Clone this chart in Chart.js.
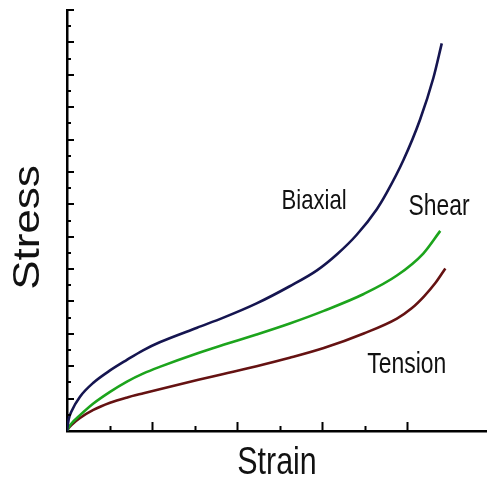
<!DOCTYPE html>
<html>
<head>
<meta charset="utf-8">
<script src="https://cdn.jsdelivr.net/npm/chart.js@4/dist/chart.umd.min.js"></script>
<style>
  html, body { margin: 0; padding: 0; background: #fff; }
  canvas { display: block; }
</style>
</head>
<body>
<canvas id="stressChart" width="487" height="489"></canvas>
<script>
const biaxialStrain = [0, 0.02, 0.055, 0.153, 0.31, 0.506, 0.70, 0.90, 1.09, 1.53, 1.84, 2.23, 2.62, 2.94, 3.173, 3.408, 3.644, 3.761, 3.956, 4.153, 4.309, 4.408];
const biaxialStress = [0, 0.36, 0.62, 1.06, 1.49, 1.87, 2.19, 2.50, 2.74, 3.19, 3.50, 3.94, 4.47, 4.96, 5.45, 6.06, 6.85, 7.36, 8.36, 9.62, 10.9, 11.97];

const shearStrain = [0, 0.02, 0.055, 0.153, 0.31, 0.506, 0.70, 0.90, 1.09, 1.545, 1.84, 2.23, 2.62, 3.02, 3.49, 3.88, 4.19, 4.39];
const shearStress = [0, 0.11, 0.24, 0.49, 0.85, 1.21, 1.52, 1.78, 1.98, 2.41, 2.66, 2.98, 3.32, 3.71, 4.23, 4.80, 5.48, 6.18];

const tensionStrain = [0, 0.02, 0.055, 0.153, 0.31, 0.506, 0.70, 0.90, 1.09, 1.545, 1.84, 2.23, 2.62, 3.02, 3.49, 3.88, 4.05, 4.20, 4.33, 4.45];
const tensionStress = [0, 0.09, 0.19, 0.40, 0.65, 0.87, 1.03, 1.166, 1.29, 1.58, 1.76, 2.00, 2.26, 2.56, 3.01, 3.47, 3.78, 4.16, 4.56, 5.02];

// where each curve name sits, in data units
const curveLabels = [
  { text: "Biaxial", x: 2.906, y: 7.08, size: 28 },
  { text: "Shear", x: 4.376, y: 6.93, size: 29 },
  { text: "Tension", x: 3.996, y: 2.05, size: 29 },
];

const xTitle = "Strain";
const yTitle = "Stress";

const textFont = "'Liberation Sans', Arial, sans-serif";

function toPoints(xs, ys) {
  return xs.map((x, i) => ({ x: x, y: ys[i] }));
}

// the lettering in the picture is squeezed sideways
function squeezedText(ctx, text, x, y, size, squeeze, upright) {
  ctx.save();
  ctx.translate(x, y);
  ctx.scale(squeeze, 1);
  if (upright) ctx.rotate(-Math.PI / 2);
  ctx.font = size + "px " + textFont;
  ctx.fillStyle = "#111";
  ctx.textAlign = "center";
  ctx.textBaseline = "middle";
  ctx.fillText(text, 0, 0);
  ctx.restore();
}

// inward tick marks, major on whole units and minor on halves
const innerTicks = {
  id: "innerTicks",
  afterDraw(chart) {
    const ctx = chart.ctx;
    const xs = chart.scales.x;
    const ys = chart.scales.y;
    const x0 = xs.left;
    const y0 = ys.bottom;
    ctx.save();
    ctx.strokeStyle = "#000";
    ctx.lineWidth = 2;
    xs.ticks.forEach((t) => {
      if (t.value <= 0 || Math.abs(t.value * 2 - Math.round(t.value * 2)) > 1e-6) return;
      const px = Math.round(xs.getPixelForValue(t.value)) + 0.5;
      const len = Number.isInteger(t.value) ? 9 : 5;
      ctx.beginPath();
      ctx.moveTo(px, y0);
      ctx.lineTo(px, y0 - len);
      ctx.stroke();
    });
    ys.ticks.forEach((t) => {
      if (t.value <= 0) return;
      const py = Math.round(ys.getPixelForValue(t.value));
      const len = Number.isInteger(t.value) ? 7 : 4;
      ctx.beginPath();
      ctx.moveTo(x0 - 1, py);
      ctx.lineTo(x0 + len, py);
      ctx.stroke();
    });
    ctx.restore();
  },
};

const chartText = {
  id: "chartText",
  afterDraw(chart) {
    const ctx = chart.ctx;
    const area = chart.chartArea;
    const xs = chart.scales.x;
    const ys = chart.scales.y;
    curveLabels.forEach((l) => {
      squeezedText(ctx, l.text, xs.getPixelForValue(l.x), ys.getPixelForValue(l.y), l.size, 0.79, false);
    });
    squeezedText(ctx, xTitle, (area.left + area.right) / 2, area.bottom + 33, 38, 0.8, false);
    squeezedText(ctx, yTitle, area.left - 38.5, (area.top + area.bottom) / 2 + 7, 44, 0.83, true);
  },
};

new Chart(document.getElementById("stressChart"), {
  type: "line",
  data: {
    datasets: [
      {
        label: "Biaxial",
        data: toPoints(biaxialStrain, biaxialStress),
        borderColor: "#151550",
        borderWidth: 2.6,
        pointRadius: 0,
        cubicInterpolationMode: "monotone",
      },
      {
        label: "Shear",
        data: toPoints(shearStrain, shearStress),
        borderColor: "#1ca41c",
        borderWidth: 2.6,
        pointRadius: 0,
        cubicInterpolationMode: "monotone",
      },
      {
        label: "Tension",
        data: toPoints(tensionStrain, tensionStress),
        borderColor: "#651212",
        borderWidth: 2.6,
        pointRadius: 0,
        cubicInterpolationMode: "monotone",
      },
    ],
  },
  options: {
    responsive: false,
    animation: false,
    layout: { padding: { top: 10, right: 0, left: 0, bottom: 0 } },
    plugins: {
      legend: { display: false },
      tooltip: { enabled: false },
    },
    scales: {
      x: {
        type: "linear",
        min: 0,
        max: 4.94,
        ticks: { display: false, stepSize: 0.5 },
        grid: { display: false },
        border: { display: true, color: "#000", width: 2.5 },
        afterFit(scale) {
          scale.height = 58;
        },
      },
      y: {
        type: "linear",
        min: 0,
        max: 13,
        ticks: { display: false, stepSize: 0.5 },
        grid: { display: false },
        border: { display: true, color: "#000", width: 2.5 },
        afterFit(scale) {
          scale.width = 67;
        },
      },
    },
  },
  plugins: [innerTicks, chartText],
});
</script>
</body>
</html>
